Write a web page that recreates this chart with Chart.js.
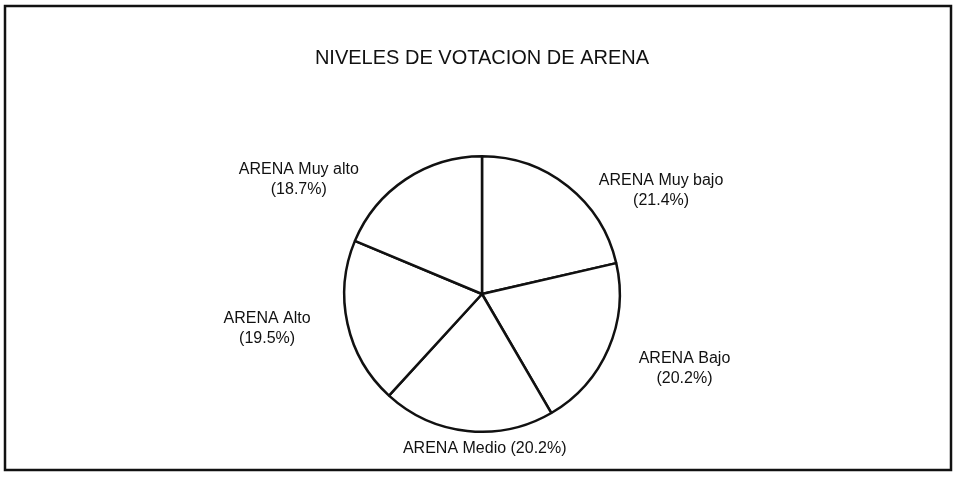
<!DOCTYPE html>
<html>
<head>
<meta charset="utf-8">
<script src="https://cdn.jsdelivr.net/npm/chart.js@4/dist/chart.umd.min.js"></script>
<style>
  body { margin: 0; background: #fff; }
  canvas { display: block; }
</style>
</head>
<body>
<canvas id="votosChart" width="956" height="479"></canvas>
<script>
// datos del grafico
const categorias = ['ARENA Muy bajo', 'ARENA Bajo', 'ARENA Medio', 'ARENA Alto', 'ARENA Muy alto'];
const porcentajes = [21.4, 20.2, 20.2, 19.5, 18.7];
const titulo = 'NIVELES DE VOTACION DE ARENA';

// donde va cada etiqueta, relativo al centro del pastel (en radios)
const posEtiquetas = [
    { dx: 1.30, dy: -0.75, lineas: 2 },
    { dx: 1.47, dy: 0.54, lineas: 2 },
    { dx: 0.02, dy: 1.12, lineas: 1 },
    { dx: -1.56, dy: 0.25, lineas: 2 },
    { dx: -1.33, dy: -0.83, lineas: 2 }
];

const fuente = '"Liberation Sans", Arial, sans-serif';

// marco y textos
const marcoPlugin = {
    id: 'marco',
    beforeDraw(chart) {
        const ctx = chart.ctx;
        ctx.save();
        ctx.fillStyle = '#fff';
        ctx.fillRect(0, 0, chart.width, chart.height);
        ctx.strokeStyle = '#111';
        ctx.lineWidth = 2.5;
        ctx.strokeRect(5, 6, chart.width - 10, chart.height - 15);
        ctx.restore();
    },
    afterDraw(chart) {
        const ctx = chart.ctx;
        const arc = chart.getDatasetMeta(0).data[0];
        const cx = arc.x, cy = arc.y, r = arc.outerRadius;

        ctx.save();
        ctx.fillStyle = '#111';
        ctx.textAlign = 'center';
        ctx.textBaseline = 'middle';

        ctx.font = '20px ' + fuente;
        ctx.fillText(titulo, cx, 58);

        ctx.font = '16px ' + fuente;
        categorias.forEach((cat, i) => {
            const p = posEtiquetas[i];
            const x = cx + p.dx * r;
            const y = cy + p.dy * r;
            const pct = '(' + porcentajes[i].toFixed(1) + '%)';
            if (p.lineas === 1) {
                ctx.fillText(cat + ' ' + pct, x, y);
            } else {
                ctx.fillText(cat, x, y - 10);
                ctx.fillText(pct, x, y + 10);
            }
        });
        ctx.restore();
    }
};

const chart = new Chart(document.getElementById('votosChart'), {
    type: 'pie',
    data: {
        labels: categorias,
        datasets: [{
            data: porcentajes,
            backgroundColor: '#fff',
            borderColor: '#111',
            borderWidth: 2.5,
            hoverOffset: 0
        }]
    },
    options: {
        responsive: false,
        animation: false,
        rotation: 0,
        layout: {
            padding: { left: 343, right: 335, top: 155, bottom: 46 }
        },
        plugins: {
            legend: { display: false },
            title: { display: false },
            tooltip: { enabled: false }
        }
    },
    plugins: [marcoPlugin]
});
</script>
</body>
</html>
